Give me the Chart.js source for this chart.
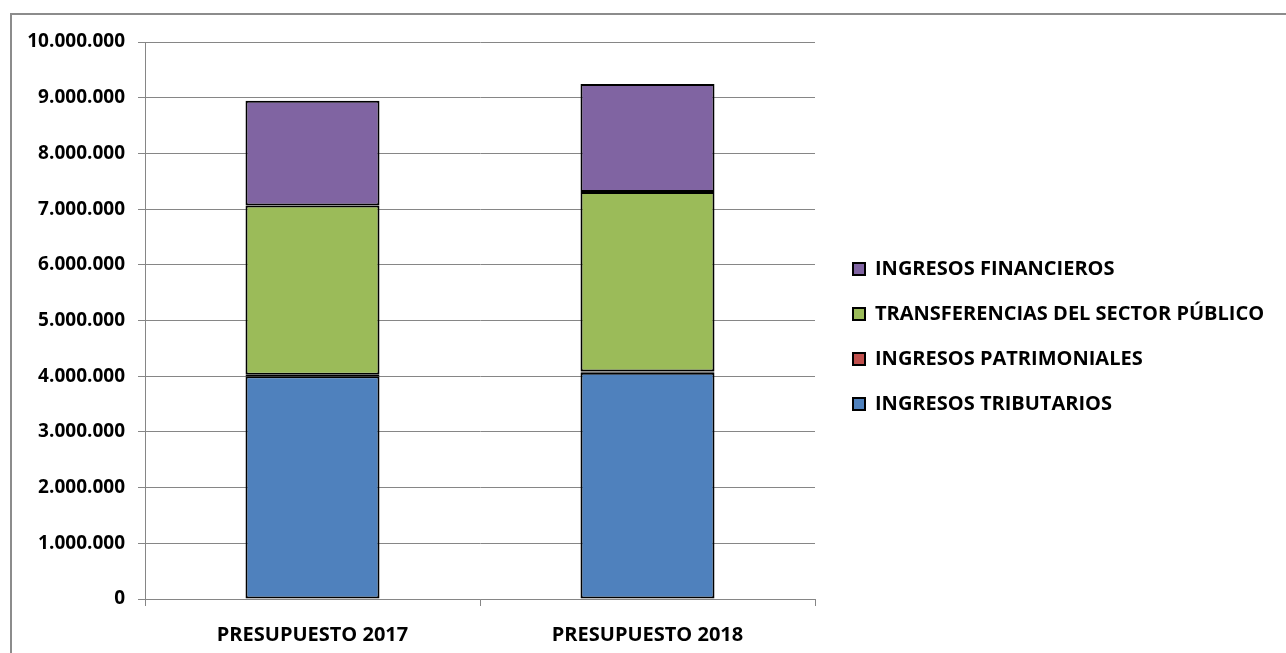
<!DOCTYPE html>
<html>
<head>
<meta charset="utf-8">
<script src="https://cdn.jsdelivr.net/npm/chart.js@4.4.1/dist/chart.umd.min.js"></script>
<style>
    html, body { margin: 0; padding: 0; background: #fff; overflow: hidden; }
    #frame { position: absolute; left: 10px; top: 13px; width: 1300px; height: 700px; border: 2px solid #8c8c8c; }
    #chart { position: absolute; left: 0; top: 0; }
</style>
</head>
<body>
<div id="frame"></div>
<canvas id="chart" width="1286" height="653"></canvas>
<script>
const categories = ['PRESUPUESTO 2017', 'PRESUPUESTO 2018'];
const tributarios = [4000000, 4060000];
const patrimoniales = [25000, 25000];
const transferencias = [3040000, 3220000];
const financieros = [1880000, 1940000];
const yTicks = [0, 1000000, 2000000, 3000000, 4000000, 5000000, 6000000, 7000000, 8000000, 9000000, 10000000];

const FONT = "'Open Sans', sans-serif";

function fmt(v) {
    return String(v).replace(/\B(?=(\d{3})+(?!\d))/g, '.');
}

// legend takes a fixed strip on the right and sits where Excel had it
const legendPlace = {
    id: 'legendPlace',
    beforeLayout(chart) {
        const lg = chart.legend;
        if (lg && !lg._fixed) {
            const fit = lg.fit;
            lg.fit = function() {
                fit.call(this);
                this.width = 1286 - 815;
            };
            lg._fixed = true;
        }
    },
    afterLayout(chart) {
        const lg = chart.legend;
        if (lg) {
            lg.left = 828;
            lg.top = 234;
        }
    }
};

document.addEventListener('DOMContentLoaded', function() {
    const ctx = document.getElementById('chart').getContext('2d');
    new Chart(ctx, {
        type: 'bar',
        data: {
            labels: categories,
            datasets: [
                { label: 'INGRESOS TRIBUTARIOS', data: tributarios, backgroundColor: '#4F81BD' },
                { label: 'INGRESOS PATRIMONIALES', data: patrimoniales, backgroundColor: '#C0504D' },
                { label: 'TRANSFERENCIAS DEL SECTOR PÚBLICO', data: transferencias, backgroundColor: '#9BBB59' },
                { label: 'INGRESOS FINANCIEROS', data: financieros, backgroundColor: '#8064A2' }
            ].map(d => Object.assign(d, {
                borderColor: '#000',
                borderWidth: 2,
                borderSkipped: false,
                barPercentage: 0.4,
                categoryPercentage: 1
            }))
        },
        options: {
            responsive: false,
            animation: false,
            layout: { padding: { left: 0, top: 42, right: 0, bottom: 0 } },
            scales: {
                x: {
                    stacked: true,
                    grid: { display: true, drawOnChartArea: false, offset: true, color: '#868686', tickLength: 7 },
                    border: { color: '#868686', width: 1 },
                    ticks: { color: '#000', font: { family: FONT, size: 20, weight: 'bold' }, padding: 17 },
                    afterFit(scale) { scale.height = 54; }
                },
                y: {
                    stacked: true,
                    min: 0,
                    max: 10000000,
                    afterBuildTicks(scale) { scale.ticks = yTicks.map(v => ({ value: v })); },
                    grid: { color: '#868686', tickLength: 7 },
                    border: { color: '#868686', width: 1 },
                    ticks: {
                        color: '#000',
                        padding: 13,
                        font: { family: FONT, size: 19, weight: 'bold' },
                        callback: v => fmt(v)
                    },
                    afterFit(scale) { scale.width = 145; }
                }
            },
            plugins: {
                legend: {
                    position: 'right',
                    align: 'start',
                    reverse: true,
                    labels: {
                        color: '#000',
                        boxWidth: 12,
                        boxHeight: 12,
                        padding: 25,
                        font: { family: FONT, size: 20, weight: 'bold' }
                    }
                },
                title: { display: false },
                tooltip: { enabled: false }
            }
        },
        plugins: [legendPlace]
    });
});
</script>
</body>
</html>
